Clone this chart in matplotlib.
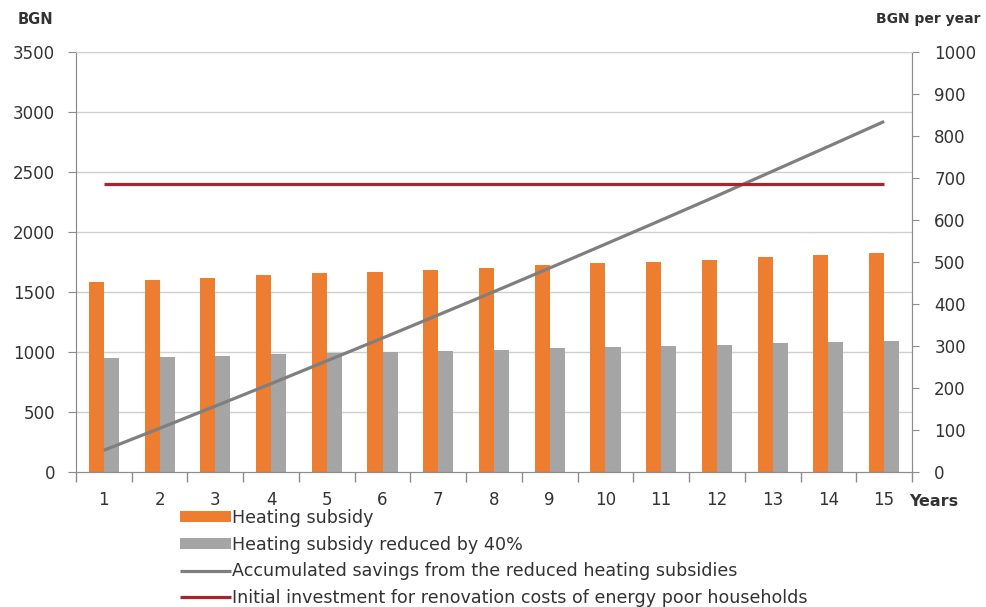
import matplotlib.pyplot as plt
from matplotlib.transforms import blended_transform_factory

years = list(range(1, 16))
# yearly heating subsidy, BGN per household (right axis)
subsidy = [453, 457, 461, 469, 473, 477, 481, 485, 493, 497, 501, 505, 513, 517, 521]
subsidy_reduced = [272, 274, 277, 281, 284, 286, 289, 291, 296, 298, 301, 303, 308, 310, 313]
# accumulated savings and renovation investment, BGN (left axis)
savings = [181, 364, 549, 736, 926, 1116, 1309, 1503, 1700, 1899, 2099, 2301, 2507, 2713, 2921]
investment = [2400] * 15

orange = '#ED7D31'
grey_bar = '#A5A5A5'
grey_line = '#7F7F7F'
red = '#A8262B'
txt = '#333333'
axis_col = '#8C8C8C'

fig = plt.figure(figsize=(9.87, 6.07), dpi=100)
ax = fig.add_axes([76/987, 1-472/607, 836/987, 420/607])
ax2 = ax.twinx()
ax.set_zorder(ax2.get_zorder() + 1)
ax.patch.set_visible(False)

w = 0.27
ax2.bar([x - w/2 for x in years], subsidy, w, color=orange, label='Heating subsidy', zorder=2)
ax2.bar([x + w/2 for x in years], subsidy_reduced, w, color=grey_bar,
        label='Heating subsidy reduced by 40%', zorder=2)

ax.plot(years, savings, color=grey_line, lw=2.3, solid_capstyle='butt',
        label='Accumulated savings from the reduced heating subsidies')
ax.plot(years, investment, color=red, lw=2.3, solid_capstyle='butt',
        label='Initial investment for renovation costs of energy poor households')

ax.set_xlim(0.5, 15.5)
ax.set_ylim(0, 3500)
ax2.set_ylim(0, 1000)
left_ticks = list(range(0, 3501, 500))
ax.set_yticks(left_ticks)
ax2.set_yticks(range(0, 1001, 100))

# horizontal grid at the left-axis ticks, kept behind the bars
tr = blended_transform_factory(ax2.transAxes, ax.transData)
for v in left_ticks[1:]:
    ax2.plot([0, 1], [v, v], transform=tr, color='#D0D0D0', lw=1.0, zorder=0)

ax.set_xticks(years)
ax.set_xticks([x + 0.5 for x in range(0, 16)], minor=True)
ax.tick_params(axis='x', which='major', length=0, pad=14, labelsize=12, labelcolor=txt)
ax.tick_params(axis='x', which='minor', length=7, color=axis_col, width=1)
ax.tick_params(axis='y', length=6, color=axis_col, pad=9, labelsize=12, labelcolor=txt)
ax2.tick_params(axis='y', length=5, color=axis_col, pad=11, labelsize=12, labelcolor=txt)

for a in (ax, ax2):
    a.spines['top'].set_visible(False)
    for s in ('left', 'right', 'bottom'):
        a.spines[s].set_color(axis_col)
ax.spines['top'].set_visible(True)
ax.spines['top'].set_color('#D0D0D0')

fig.text(18/987, 1-20/607, 'BGN', fontsize=10.5, fontweight='bold', color=txt, va='center')
fig.text(876/987, 1-19/607, 'BGN per year', fontsize=10, fontweight='bold', color=txt, va='center')
fig.text(909/987, 1-501/607, 'Years', fontsize=11.5, fontweight='bold', color=txt, va='center')

h1, l1 = ax2.get_legend_handles_labels()
h2, l2 = ax.get_legend_handles_labels()
fig.legend(h1 + h2, l1 + l2, loc='upper left', bbox_to_anchor=(180/987, 1-509/607),
           frameon=False, fontsize=12.6, handlelength=2.9, handleheight=0.6,
           handletextpad=0.1, labelspacing=0.5, borderaxespad=0, borderpad=0,
           labelcolor=txt)

fig.savefig('out.png', dpi=100)
